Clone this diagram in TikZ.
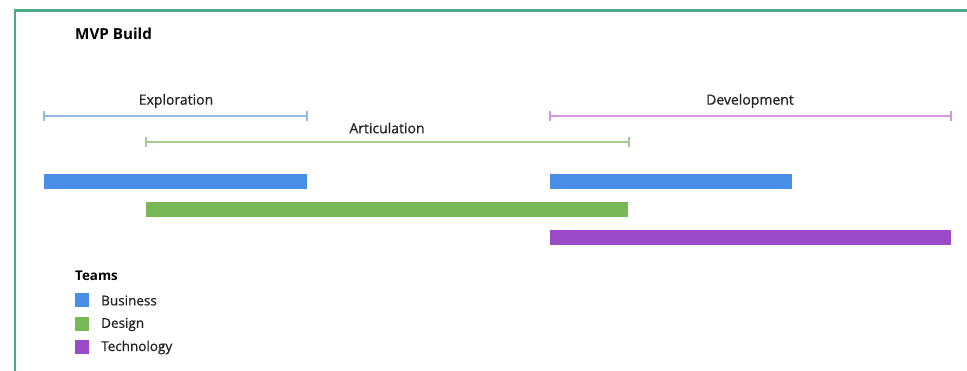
\documentclass[tikz,border=0pt]{standalone}
\usepackage{fontspec}
\setmainfont{Open Sans}
\newfontfamily\medfont[FakeBold=0.6]{Open Sans}
\definecolor{frame}{RGB}{76,170,130}
\definecolor{bizc}{RGB}{74,143,231}
\definecolor{desc}{RGB}{120,184,86}
\definecolor{tecc}{RGB}{155,75,200}
\definecolor{bizl}{RGB}{150,185,225}
\definecolor{desl}{RGB}{165,205,145}
\definecolor{tecl}{RGB}{215,150,225}
\definecolor{txt}{RGB}{35,35,35}
\begin{document}
\begin{tikzpicture}[x=1pt,y=-1pt,
  lbl/.style={font=\medfont\fontsize{14}{16}\selectfont, text=txt, inner sep=0pt},
  phase/.style={line width=1.2pt},
  sw/.style={inner sep=0pt, minimum width=14pt, minimum height=14pt, anchor=north west},
  legtxt/.style={font=\medfont\fontsize{13.5}{15}\selectfont, text=txt, anchor=west, inner sep=0pt}]
\useasboundingbox (0,0) rectangle (967,371);
\fill[white] (0,0) rectangle (967,371);
% frame
\draw[frame, line width=2.6pt] (15,380) -- (15,10.5) -- (970,10.5);
% title
\node[anchor=west, font=\fontsize{15.2}{18}\selectfont\bfseries, text=black, inner sep=0pt] (title) at (75,33.5) {MVP Build};
% phases
\coordinate (e1) at (44,116); \coordinate (e2) at (307,116);
\draw[bizl, phase] (e1) -- (e2);
\draw[bizl, phase] ([yshift=-5pt]e1) -- ([yshift=5pt]e1);
\draw[bizl, phase] ([yshift=-5pt]e2) -- ([yshift=5pt]e2);
\node[lbl] (expl) at (176,101) {Exploration};

\coordinate (d1) at (550,116); \coordinate (d2) at (951,116);
\draw[tecl, phase] (d1) -- (d2);
\draw[tecl, phase] ([yshift=-5pt]d1) -- ([yshift=5pt]d1);
\draw[tecl, phase] ([yshift=-5pt]d2) -- ([yshift=5pt]d2);
\node[lbl] (devl) at (750,101) {Development};

\coordinate (a1) at (146,142); \coordinate (a2) at (629,142);
\draw[desl, phase] (a1) -- (a2);
\draw[desl, phase] ([yshift=-5pt]a1) -- ([yshift=5pt]a1);
\draw[desl, phase] ([yshift=-5pt]a2) -- ([yshift=5pt]a2);
\node[lbl] (artl) at (387,128) {Articulation};
% bars
\fill[bizc] (44,174) rectangle (307,189);
\fill[bizc] (550,174) rectangle (792,189);
\fill[desc] (146,202) rectangle (628,217);
\fill[tecc] (550,230) rectangle (951,245);
% legend
\node[anchor=west, font=\fontsize{13.4}{15}\selectfont\bfseries, text=black, inner sep=0pt] (teams) at (75,275.5) {Teams};
\node[sw, fill=bizc] (s1) at (75,293) {};
\node[sw, fill=desc] (s2) at (75,317) {};
\node[sw, fill=tecc] (s3) at (75,340) {};
\node[legtxt] (l1) at (101,300.5) {Business};
\node[legtxt] (l2) at (101,324.5) {Design};
\node[legtxt] (l3) at (101,347.5) {Technology};
\end{tikzpicture}
\end{document}
